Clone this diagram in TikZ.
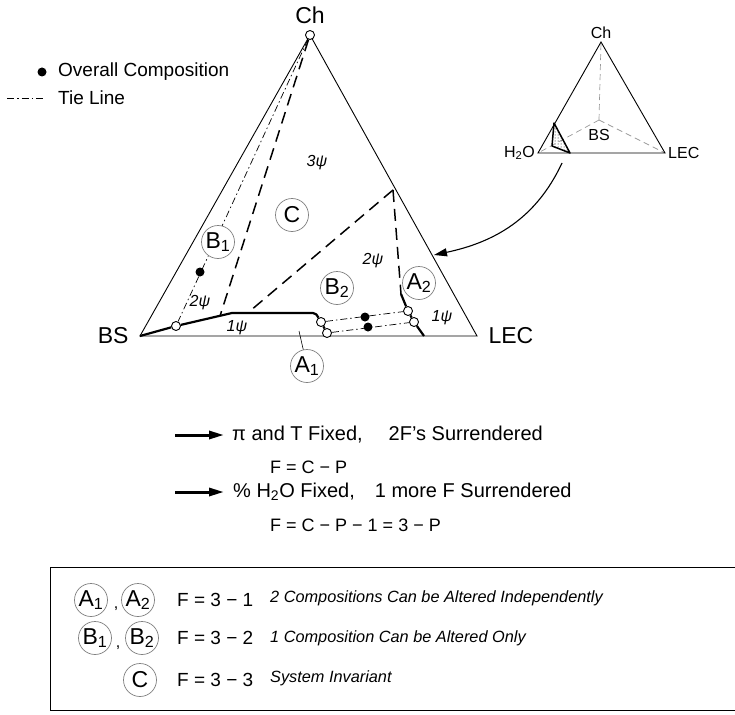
\documentclass[tikz,border=0pt]{standalone}
\usepackage{fontspec}
\setmainfont{Liberation Sans}
\usetikzlibrary{arrows.meta, positioning, patterns}

\newcommand{\fsz}[1]{\fontsize{#1}{#1}\selectfont}

\begin{document}
\begin{tikzpicture}[x=1pt, y=-1pt,
    ring/.style={draw=black!50, circle, fill=white, minimum size=33pt, inner sep=0pt, line width=0.7pt, font=\fsz{23}},
    psilabel/.style={font=\fsz{16}\itshape},
    vtxlabel/.style={font=\fsz{23}},
    inlabel/.style={font=\fsz{16}, inner sep=1pt},
    compdot/.style={circle, fill=black, inner sep=0pt, minimum size=9pt},
    openpt/.style={circle, draw, fill=white, inner sep=0pt, minimum size=9pt, line width=0.9pt},
    tie/.style={dash pattern=on 7pt off 3pt on 1.5pt off 3pt, line width=0.7pt},
    bndline/.style={line width=2.2pt, line join=round},
    guess/.style={dash pattern=on 12pt off 7pt, line width=1.5pt},
    txt/.style={anchor=west, font=\fsz{19}, inner sep=0pt},
    rule/.style={anchor=west, font=\fsz{20}, inner sep=0pt},
    eqn/.style={anchor=west, font=\fsz{18}, inner sep=0pt},
    desc/.style={anchor=west, font=\fsz{16.3}\itshape, inner sep=0pt},
    fatarrow/.style={-{Triangle[length=15pt, width=8pt]}, line width=3pt}
]
\useasboundingbox (0,0) rectangle (735,714);

% Legend
\node[compdot] (legdot) at (42,72) {};
\node[txt] (legcomp) at (58,72) {Overall Composition};
\coordinate (tieA) at (7,98);
\coordinate (tieB) at (45,98);
\draw[tie] (tieA) -- (tieB);
\node[txt] (legtie) at (58,98) {Tie Line};

% Main triangle
\coordinate (ch) at (310,35);
\coordinate (bs) at (140,336);
\coordinate (lec) at (477,336);
\draw[line width=0.9pt] (ch) -- (bs) -- (lec) -- cycle;
\node[vtxlabel, above=8pt of ch] (chlab) {Ch};
\node[vtxlabel, left=8pt of bs] (bslab) {BS};
\node[vtxlabel, right=8pt of lec] (leclab) {LEC};

% Points on the phase boundaries
\node[openpt] (chpt) at (ch) {};
\node[openpt] (o1) at (176,326) {};
\node[openpt] (o2) at (321,322) {};
\node[openpt] (o3) at (327,333) {};
\node[openpt] (o4) at (408,311) {};
\node[openpt] (o5) at (414,322) {};
\coordinate (kink) at (232,313);
\coordinate (flat) at (313,313);
\coordinate (rtop) at (401,294);
\coordinate (rbase) at (424,336);
\coordinate (vtx) at (393,190);
\coordinate (d1) at (220,316);
\coordinate (d2) at (250,311);

% Boundaries
\draw[bndline] (bs) -- (o1) -- (kink) -- (flat) to[out=0, in=120] (o2) -- (o3);
\draw[bndline] (rtop) -- (o4) -- (o5) -- (rbase);
\draw[guess] (chpt) -- (d1);
\draw[guess] (vtx) -- (d2);
\draw[guess] (vtx) -- (rtop);

% Tie lines
\draw[tie] (chpt) -- (o1);
\draw[tie] (o2) -- (o4);
\draw[tie] (o3) -- (o5);

% Overall compositions
\node[compdot] (p1) at (200,272) {};
\node[compdot] (p2) at (365,317) {};
\node[compdot] (p3) at (368,327) {};

% Regions
\node[ring] (regC) at (292,215) {C};
\node[ring] (regB1) at (218,242) {B\textsubscript{1}};
\node[ring] (regB2) at (337,288) {B\textsubscript{2}};
\node[ring] (regA2) at (419,283) {A\textsubscript{2}};
\node[ring] (regA1) at (307,366) {A\textsubscript{1}};
\coordinate (a1tip) at (299,331);
\draw[line width=0.6pt] (a1tip) -- (regA1);

\node[psilabel] (psi3) at (317,163) {3ψ};
\node[psilabel] (psi2l) at (200,303) {2ψ};
\node[psilabel] (psi1l) at (237,328) {1ψ};
\node[psilabel] (psi2r) at (373,261) {2ψ};
\node[psilabel] (psi1r) at (442,318) {1ψ};

% Tetrahedron inset
\coordinate (ich) at (601,42);
\coordinate (ih) at (538,153);
\coordinate (ilec) at (665,153);
\coordinate (ibs) at (599,120);
\draw[black!40, dash pattern=on 6pt off 4pt, line width=0.7pt] (ibs) -- (ich) (ibs) -- (ih) (ibs) -- (ilec);
\draw[line width=0.9pt] (ich) -- (ih) -- (ilec) -- cycle;
\node[inlabel, above=2pt of ich] (ichlab) {Ch};
\node[inlabel, left=2pt of ih] (ihlab) {H\textsubscript{2}O};
\node[inlabel, right=2pt of ilec] (ileclab) {LEC};
\node[inlabel, below=8pt of ibs] (ibslab) {BS};
\coordinate (s1) at (554,123);
\coordinate (s2) at (552,146);
\coordinate (s3) at (570,153);
\draw[line width=1.5pt, pattern=dots, line join=round] (s1) -- (s2) -- (s3) -- cycle;

\coordinate (arrS) at (562,163);
\coordinate (arrE) at (434,255);
\draw[-{Triangle[length=13pt, width=8pt]}, line width=1.1pt] (arrS) to[out=-115, in=12] (arrE);

% Constraints
\coordinate (ar1s) at (175,435);
\coordinate (ar1e) at (224,435);
\draw[fatarrow] (ar1s) -- (ar1e);
\node[rule] (fix1) at (232,435) {π and T Fixed,\hspace{26pt}2F’s Surrendered};
\node[eqn] (eq1) at (270,467) {F = C − P};
\coordinate (ar2s) at (175,492);
\coordinate (ar2e) at (224,492);
\draw[fatarrow] (ar2s) -- (ar2e);
\node[rule] (fix2) at (233,492) {\% H\textsubscript{2}O Fixed,\hspace{20pt}1 more F Surrendered};
\node[eqn] (eq2) at (270,525) {F = C − P − 1 = 3 − P};

% Summary box
\draw[line width=0.8pt] (735,567) -| (50,710) -- (735,710);
\node[ring] (boxA1) at (91,600) {A\textsubscript{1}};
\node[font=\fsz{16}] (comA) at (116,609) {,};
\node[ring] (boxA2) at (138,600) {A\textsubscript{2}};
\node[ring] (boxB1) at (95,638) {B\textsubscript{1}};
\node[font=\fsz{16}] (comB) at (118,648) {,};
\node[ring] (boxB2) at (142,638) {B\textsubscript{2}};
\node[ring] (boxC) at (140,680) {C};
\node[txt] (fA) at (177,600) {F = 3 − 1};
\node[txt] (fB) at (177,638) {F = 3 − 2};
\node[txt] (fC) at (177,680) {F = 3 − 3};
\node[desc] (dA) at (270,598) {2 Compositions Can be Altered Independently};
\node[desc] (dB) at (270,638) {1 Composition Can be Altered Only};
\node[desc] (dC) at (270,678) {System Invariant};

\end{tikzpicture}
\end{document}
